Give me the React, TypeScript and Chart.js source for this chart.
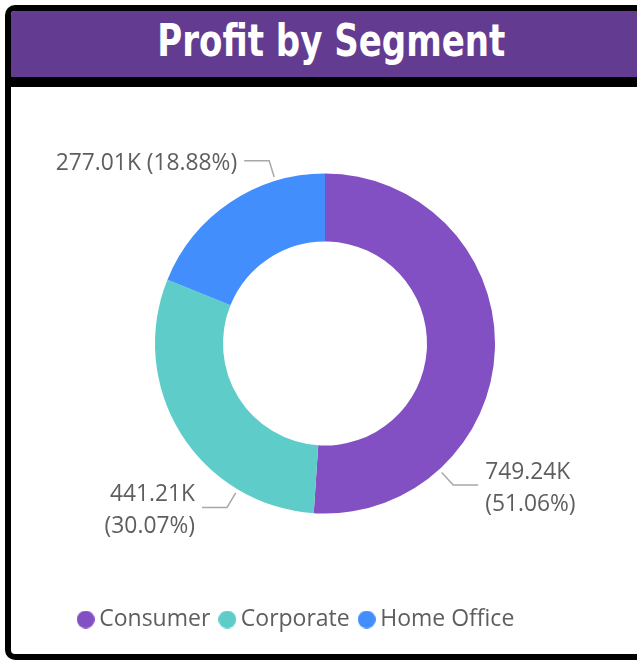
import React, { useEffect, useRef } from "react";
import { Chart, registerables } from "chart.js";

Chart.register(...registerables);

const titleText = "Profit by Segment";
const categories = ["Consumer", "Corporate", "Home Office"];
const profitValues = [749240, 441210, 277010];
const sliceColors = ["#8350C4", "#5ECCC8", "#428EFD"];
// where along each slice the callout leader line attaches (fraction of slice)
const calloutAnchor = [0.75, 0.25, 0.75];

const labelFont = "22.8px 'Open Sans', 'Noto Sans', sans-serif";
const textGray = "#605E5C";

function circleImage(color: string, size: number) {
  const c = document.createElement("canvas");
  c.width = size;
  c.height = size;
  const g = c.getContext("2d")!;
  g.fillStyle = color;
  g.beginPath();
  g.arc(size / 2, size / 2, size / 2, 0, Math.PI * 2);
  g.fill();
  return c;
}

const calloutPlugin = {
  id: "callouts",
  afterDatasetsDraw(chart: any) {
    const ctx = chart.ctx as CanvasRenderingContext2D;
    const meta = chart.getDatasetMeta(0);
    const data = chart.data.datasets[0].data as number[];
    const total = data.reduce((a, b) => a + b, 0);
    ctx.save();
    ctx.font = labelFont;
    ctx.textBaseline = "middle";
    meta.data.forEach((arc: any, i: number) => {
      const { x, y, startAngle, endAngle, outerRadius } = arc.getProps(
        ["x", "y", "startAngle", "endAngle", "outerRadius"],
        true
      );
      const a = startAngle + (endAngle - startAngle) * calloutAnchor[i];
      const r1 = outerRadius + 4;
      const r2 = outerRadius + 21;
      const p1x = x + Math.cos(a) * r1;
      const p1y = y + Math.sin(a) * r1;
      const p2x = x + Math.cos(a) * r2;
      const p2y = y + Math.sin(a) * r2;
      const dir = Math.cos(a) >= 0 ? 1 : -1;
      const p3x = p2x + dir * 25;
      ctx.strokeStyle = "#A8A8A8";
      ctx.lineWidth = 1.5;
      ctx.beginPath();
      ctx.moveTo(p1x, p1y);
      ctx.lineTo(p2x, p2y);
      ctx.lineTo(p3x, p2y);
      ctx.stroke();

      const v = data[i];
      const valueText = (v / 1000).toFixed(2) + "K";
      const pctText = "(" + ((v / total) * 100).toFixed(2) + "%)";
      const one = valueText + " " + pctText;
      const tx = p3x + dir * 7;
      const w = ctx.measureText(one).width;
      const fits = dir > 0 ? tx + w < chart.width - 20 : tx - w > 20;
      ctx.fillStyle = textGray;
      ctx.textAlign = dir > 0 ? "left" : "right";
      if (fits) {
        ctx.fillText(one, tx, p2y + 3);
      } else {
        ctx.fillText(valueText, tx, p2y - 13);
        ctx.fillText(pctText, tx, p2y + 19);
      }
    });
    ctx.restore();
  },
};

// shifts the legend row horizontally, as in the original visual
const legendShiftPlugin = {
  id: "legendShift",
  afterLayout(chart: any) {
    const L = chart.legend;
    if (L) {
      L.left -= 26;
      L.right -= 26;
    }
  },
};

export default function App() {
  const canvasRef = useRef<HTMLCanvasElement | null>(null);

  useEffect(() => {
    if (!canvasRef.current) return;
    const chart = new Chart(canvasRef.current, {
      type: "doughnut",
      data: {
        labels: categories,
        datasets: [
          {
            data: profitValues,
            backgroundColor: sliceColors,
            borderWidth: 0,
          },
        ],
      },
      plugins: [calloutPlugin, legendShiftPlugin],
      options: {
        animation: false,
        responsive: true,
        maintainAspectRatio: false,
        radius: 170,
        cutout: "60%",
        layout: { padding: { top: 7, bottom: 13 } },
        plugins: {
          tooltip: { enabled: false },
          legend: {
            position: "bottom",
            labels: {
              font: { family: "'Open Sans', 'Noto Sans', sans-serif", size: 23 },
              color: textGray,
              usePointStyle: true,
              pointStyleWidth: 4,
              padding: 15,
              generateLabels: () =>
                categories.map((c, i) => ({
                  text: c,
                  fillStyle: sliceColors[i],
                  strokeStyle: sliceColors[i],
                  lineWidth: 0,
                  hidden: false,
                  index: i,
                  fontColor: textGray,
                  pointStyle: circleImage(sliceColors[i], 18) as any,
                })),
            },
          },
        },
      },
    });
    return () => chart.destroy();
  }, []);

  return (
    <div
      style={{
        position: "fixed",
        left: 5,
        top: 5,
        width: 640,
        border: "6px solid #000",
        borderRadius: 10,
        overflow: "hidden",
        background: "#fff",
      }}
    >
      <div
        style={{
          height: 66,
          background: "#633C92",
          borderBottom: "10px solid #000",
          display: "flex",
          alignItems: "center",
          justifyContent: "center",
          color: "#fff",
          fontFamily: "'DejaVu Sans Condensed', 'DejaVu Sans', sans-serif",
          fontWeight: "bold",
          fontSize: 44,
          lineHeight: "66px",
          overflow: "hidden",
        }}
      >
        <span
          style={{
            display: "inline-block",
            transform: "scaleX(0.86)",
            marginTop: -6,
            whiteSpace: "nowrap",
          }}
        >
          {titleText}
        </span>
      </div>
      <div style={{ position: "relative", width: 628, height: 567 }}>
        <canvas ref={canvasRef} />
      </div>
    </div>
  );
}
